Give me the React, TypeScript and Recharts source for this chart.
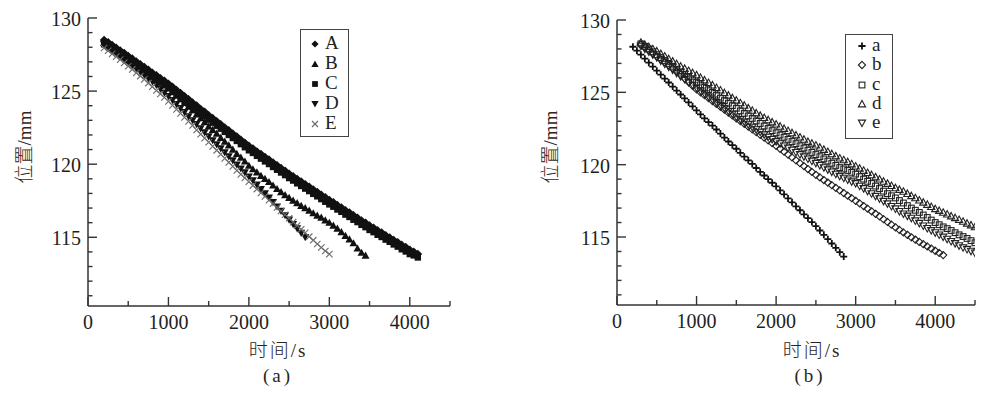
import React from 'react'
import { ScatterChart, Scatter, XAxis, YAxis } from 'recharts'

// sampling times (s)
const T = [
  200, 250, 300, 350, 400, 450, 500, 550, 600, 650, 700, 750, 800, 850, 900, 950, 1000, 1050, 1100,
  1150, 1200, 1250, 1300, 1350, 1400, 1450, 1500, 1550, 1600, 1650, 1700, 1750, 1800, 1850, 1900,
  1950, 2000, 2050, 2100, 2150, 2200, 2250, 2300, 2350, 2400, 2450, 2500, 2550, 2600, 2650, 2700,
  2750, 2800, 2850, 2900, 2950, 3000, 3050, 3100, 3150, 3200, 3250, 3300, 3350, 3400, 3450, 3500,
  3550, 3600, 3650, 3700, 3750, 3800, 3850, 3900, 3950, 4000, 4050, 4100, 4150, 4200, 4250, 4300,
  4350, 4400, 4450, 4500
]

const xTicks = [0, 500, 1000, 1500, 2000, 2500, 3000, 3500, 4000, 4500]
const yTicks = [111, 112, 113, 114, 115, 116, 117, 118, 119, 120, 121, 122, 123, 124, 125, 126, 127, 128, 129, 130]

// (a) 位置/mm, all start at 200 s
const posA = [
  128.5, 128.34, 128.15, 127.97, 127.78, 127.6, 127.4, 127.22, 127.02, 126.84, 126.64, 126.46, 126.26,
  126.08, 125.88, 125.7, 125.5, 125.3, 125.07, 124.87, 124.64, 124.44, 124.21, 124.01, 123.78, 123.58,
  123.35, 123.15, 122.93, 122.73, 122.51, 122.31, 122.09, 121.89, 121.67, 121.47, 121.25, 121.07,
  120.87, 120.69, 120.49, 120.31, 120.11, 119.93, 119.73, 119.55, 119.35, 119.18, 118.99, 118.82,
  118.63, 118.46, 118.27, 118.1, 117.91, 117.74, 117.55, 117.39, 117.2, 117.04, 116.85, 116.69, 116.5,
  116.34, 116.15, 115.99, 115.8, 115.65, 115.47, 115.32, 115.14, 114.99, 114.81, 114.66, 114.48,
  114.33, 114.15, 114.01, 113.85
]
const posB = [
  128.3, 128.16, 128.0, 127.81, 127.65, 127.47, 127.3, 127.09, 126.9, 126.71, 126.5, 126.29, 126.1,
  125.86, 125.65, 125.43, 125.2, 124.94, 124.7, 124.46, 124.2, 123.94, 123.7, 123.41, 123.15, 122.89,
  122.6, 122.36, 122.1, 121.81, 121.55, 121.29, 121.0, 120.71, 120.45, 120.19, 119.9, 119.66, 119.45,
  119.21, 119.0, 118.79, 118.55, 118.31, 118.1, 117.89, 117.7, 117.51, 117.35, 117.16, 117.0, 116.83,
  116.65, 116.49, 116.35, 116.16, 116.0, 115.81, 115.6, 115.36, 115.1, 114.86, 114.6, 114.24, 113.95, 113.75
]
const posC = [
  128.2, 128.05, 127.85, 127.66, 127.48, 127.3, 127.1, 126.91, 126.72, 126.54, 126.34, 126.15, 125.96,
  125.78, 125.58, 125.39, 125.2, 125.01, 124.77, 124.56, 124.34, 124.14, 123.91, 123.7, 123.48, 123.28,
  123.05, 122.84, 122.63, 122.43, 122.21, 122.0, 121.79, 121.59, 121.37, 121.16, 120.95, 120.77,
  120.57, 120.38, 120.19, 120.01, 119.81, 119.62, 119.43, 119.25, 119.05, 118.88, 118.69, 118.51,
  118.33, 118.16, 117.97, 117.8, 117.61, 117.43, 117.25, 117.09, 116.9, 116.74, 116.55, 116.39, 116.2,
  116.04, 115.85, 115.69, 115.5, 115.35, 115.17, 115.02, 114.84, 114.69, 114.51, 114.36, 114.18,
  114.03, 113.85, 113.76, 113.62
]
const posD = [
  128.2, 128.01, 127.8, 127.61, 127.4, 127.19, 127.0, 126.77, 126.55, 126.33, 126.1, 125.87, 125.65,
  125.41, 125.15, 124.89, 124.65, 124.37, 124.1, 123.83, 123.55, 123.27, 123.0, 122.73, 122.45, 122.17,
  121.9, 121.63, 121.35, 121.07, 120.8, 120.53, 120.25, 119.97, 119.7, 119.43, 119.15, 118.88, 118.6,
  118.29, 118.0, 117.71, 117.4, 117.1, 116.8, 116.5, 116.2, 115.89, 115.6, 115.3, 115.0
]
const posE = [
  127.95, 127.76, 127.55, 127.36, 127.15, 126.93, 126.7, 126.48, 126.25, 126.03, 125.8, 125.54, 125.3,
  125.04, 124.8, 124.56, 124.3, 124.02, 123.75, 123.48, 123.2, 122.93, 122.65, 122.34, 122.05, 121.78,
  121.5, 121.22, 120.95, 120.68, 120.4, 120.12, 119.85, 119.57, 119.3, 119.06, 118.8, 118.54, 118.3,
  118.04, 117.8, 117.54, 117.3, 117.04, 116.8, 116.54, 116.3, 116.04, 115.8, 115.54, 115.3, 115.04,
  114.8, 114.54, 114.3, 114.06, 113.85
]

// (b) a starts at 200 s, b-e at 300 s
const posa = [
  128.15, 127.88, 127.6, 127.33, 127.05, 126.78, 126.5, 126.22, 125.95, 125.68, 125.4, 125.12, 124.85,
  124.58, 124.3, 124.03, 123.75, 123.47, 123.2, 122.94, 122.7, 122.43, 122.15, 121.87, 121.6, 121.35,
  121.1, 120.82, 120.55, 120.3, 120.05, 119.77, 119.5, 119.25, 119.0, 118.75, 118.5, 118.22, 117.95,
  117.67, 117.4, 117.12, 116.85, 116.57, 116.3, 116.03, 115.75, 115.45, 115.15, 114.85, 114.55, 114.25,
  113.95, 113.65
]
const posb = [
  128.3, 128.12, 127.92, 127.71, 127.5, 127.29, 127.08, 126.87, 126.66, 126.45, 126.22, 125.96, 125.7,
  125.45, 125.2, 125.0, 124.8, 124.6, 124.4, 124.2, 124.0, 123.8, 123.6, 123.4, 123.2, 123.01, 122.82,
  122.63, 122.44, 122.25, 122.06, 121.87, 121.68, 121.49, 121.3, 121.1, 120.9, 120.7, 120.5, 120.3,
  120.1, 119.9, 119.7, 119.5, 119.3, 119.12, 118.94, 118.76, 118.58, 118.4, 118.22, 118.04, 117.86,
  117.68, 117.5, 117.32, 117.14, 116.96, 116.78, 116.6, 116.42, 116.23, 116.04, 115.85, 115.67, 115.49,
  115.32, 115.15, 114.98, 114.82, 114.66, 114.5, 114.35, 114.2, 114.05, 113.9, 113.75
]
const posc = [
  128.35, 128.18, 128.0, 127.8, 127.6, 127.4, 127.2, 127.0, 126.8, 126.6, 126.4, 126.22, 126.05, 125.87,
  125.7, 125.52, 125.35, 125.18, 125.0, 124.8, 124.6, 124.43, 124.25, 124.08, 123.9, 123.72, 123.55,
  123.37, 123.2, 123.02, 122.85, 122.67, 122.5, 122.35, 122.2, 122.05, 121.9, 121.75, 121.6, 121.45,
  121.3, 121.15, 121.0, 120.85, 120.7, 120.55, 120.4, 120.25, 120.1, 119.95, 119.8, 119.7, 119.6,
  119.47, 119.35, 119.17, 119.0, 118.85, 118.7, 118.52, 118.35, 118.17, 118.0, 117.85, 117.7, 117.52,
  117.35, 117.17, 117.0, 116.85, 116.7, 116.52, 116.35, 116.17, 116.0, 115.85, 115.7, 115.58, 115.45,
  115.3, 115.15, 115.03, 114.9, 114.75, 114.6
]
const posd = [
  128.45, 128.3, 128.15, 128.0, 127.85, 127.67, 127.5, 127.32, 127.15, 126.97, 126.8, 126.65, 126.5,
  126.35, 126.2, 126.02, 125.85, 125.67, 125.5, 125.32, 125.15, 124.97, 124.8, 124.62, 124.45, 124.27,
  124.1, 123.92, 123.75, 123.57, 123.4, 123.25, 123.1, 122.95, 122.8, 122.65, 122.5, 122.35, 122.2,
  122.05, 121.9, 121.75, 121.6, 121.48, 121.35, 121.2, 121.05, 120.9, 120.75, 120.6, 120.45, 120.33,
  120.2, 120.05, 119.9, 119.75, 119.6, 119.45, 119.3, 119.15, 119.0, 118.85, 118.7, 118.55, 118.4,
  118.28, 118.15, 118.0, 117.85, 117.7, 117.55, 117.4, 117.25, 117.1, 116.95, 116.83, 116.7, 116.58,
  116.45, 116.33, 116.2, 116.08, 115.95, 115.83, 115.7
]
const pose = [
  128.2, 128.0, 127.8, 127.6, 127.4, 127.17, 126.95, 126.75, 126.55, 126.32, 126.1, 125.9, 125.7, 125.5,
  125.3, 125.1, 124.9, 124.7, 124.5, 124.3, 124.1, 123.9, 123.7, 123.5, 123.3, 123.12, 122.95, 122.77,
  122.6, 122.42, 122.25, 122.07, 121.9, 121.75, 121.6, 121.45, 121.3, 121.15, 121.0, 120.85, 120.7,
  120.55, 120.4, 120.25, 120.1, 119.95, 119.8, 119.65, 119.5, 119.35, 119.2, 119.07, 118.95, 118.82,
  118.7, 118.52, 118.35, 118.17, 118.0, 117.82, 117.65, 117.47, 117.3, 117.12, 116.95, 116.77, 116.6,
  116.45, 116.3, 116.12, 115.95, 115.77, 115.6, 115.45, 115.3, 115.15, 115.0, 114.85, 114.7, 114.55,
  114.4, 114.27, 114.15, 114.02, 113.9
]

const toPts = (vals: number[], start = 200) => {
  const i0 = T.indexOf(start)
  return vals.map((y, i) => ({ t: T[i0 + i], y })).filter(p => p.t !== undefined)
}

const SERIF = '"Liberation Serif", "Noto Sans CJK SC", serif'
const INK = '#1e1e22'

type Kind = 'diamond' | 'triUp' | 'square' | 'triDown' | 'x' | 'plus'

function Mark({ cx, cy, kind, s, color, open }: any) {
  const fill = open ? 'none' : color
  const stroke = open ? color : 'none'
  const common = { fill, stroke, strokeWidth: open ? 1.1 : 0 }
  if (kind === 'diamond')
    return <path d={`M${cx},${cy - s}L${cx + s},${cy}L${cx},${cy + s}L${cx - s},${cy}Z`} {...common} />
  if (kind === 'square')
    return <rect x={cx - s * 0.8} y={cy - s * 0.8} width={s * 1.6} height={s * 1.6} {...common} />
  if (kind === 'triUp')
    return <path d={`M${cx},${cy - s}L${cx + s},${cy + s * 0.8}L${cx - s},${cy + s * 0.8}Z`} {...common} />
  if (kind === 'triDown')
    return <path d={`M${cx},${cy + s}L${cx + s},${cy - s * 0.8}L${cx - s},${cy - s * 0.8}Z`} {...common} />
  if (kind === 'x')
    return (
      <path d={`M${cx - s},${cy - s}L${cx + s},${cy + s}M${cx - s},${cy + s}L${cx + s},${cy - s}`}
        stroke={color} strokeWidth={1.1} fill="none" />
    )
  return (
    <path d={`M${cx - s},${cy}L${cx + s},${cy}M${cx},${cy - s}L${cx},${cy + s}`}
      stroke={color} strokeWidth={1.8} fill="none" />
  )
}

const YTick = ({ x, y, payload }: any) => {
  const major = payload.value % 5 === 0
  return (
    <g>
      <line x1={x} x2={x + (major ? 9 : 4.5)} y1={y} y2={y} stroke="#333" strokeWidth={1.4} />
      {major && (
        <text x={x - 7} y={y} dy={8} textAnchor="end" fontFamily={SERIF} fontSize={20} fill={INK}>
          {payload.value}
        </text>
      )}
    </g>
  )
}

const XTick = ({ x, y, payload }: any) => {
  const major = payload.value % 1000 === 0
  return (
    <g>
      <line x1={x} x2={x} y1={y} y2={y - (major ? 9 : 5)} stroke="#333" strokeWidth={1.4} />
      {major && payload.value < 4500 && (
        <text x={x} y={y} dy={23} textAnchor="middle" fontFamily={SERIF} fontSize={20} fill={INK}>
          {payload.value}
        </text>
      )}
    </g>
  )
}

interface SeriesDef {
  name: string
  data: { t: number; y: number }[]
  kind: Kind
  color: string
  open?: boolean
  s: number
}

const leftSeries: SeriesDef[] = [
  { name: 'A', data: toPts(posA), kind: 'diamond', color: '#111', s: 4.3 },
  { name: 'B', data: toPts(posB), kind: 'triUp', color: '#111', s: 4 },
  { name: 'C', data: toPts(posC), kind: 'square', color: '#111', s: 4 },
  { name: 'D', data: toPts(posD), kind: 'triDown', color: '#111', s: 4 },
  { name: 'E', data: toPts(posE), kind: 'x', color: '#6a6a6a', s: 3.2 }
]

const rightSeries: SeriesDef[] = [
  { name: 'a', data: toPts(posa), kind: 'plus', color: '#111', s: 3.5 },
  { name: 'b', data: toPts(posb, 300), kind: 'diamond', color: '#222', open: true, s: 3.6 },
  { name: 'c', data: toPts(posc, 300), kind: 'square', color: '#222', open: true, s: 3.6 },
  { name: 'd', data: toPts(posd, 300), kind: 'triUp', color: '#222', open: true, s: 3.6 },
  { name: 'e', data: toPts(pose, 300), kind: 'triDown', color: '#222', open: true, s: 3.6 }
]

function Panel({ series, margin, width, yWidth }: any) {
  return (
    <ScatterChart width={width} height={393} margin={margin}>
      <XAxis
        type="number"
        dataKey="t"
        domain={[0, 4500]}
        ticks={xTicks}
        interval={0}
        height={30}
        tickSize={0}
        tickMargin={0}
        tickLine={false}
        tick={<XTick />}
        axisLine={{ stroke: '#333', strokeWidth: 1.5 }}
        allowDataOverflow
      />
      <YAxis
        type="number"
        dataKey="y"
        domain={[110.3, 130]}
        ticks={yTicks}
        interval={0}
        width={yWidth}
        tickSize={0}
        tickMargin={0}
        tickLine={false}
        tick={<YTick />}
        axisLine={{ stroke: '#333', strokeWidth: 1.5 }}
        allowDataOverflow
      />
      {series.map((sr: SeriesDef) => (
        <Scatter
          key={sr.name}
          name={sr.name}
          data={sr.data}
          isAnimationActive={false}
          shape={(p: any) => <Mark cx={p.cx} cy={p.cy} kind={sr.kind} s={sr.s} color={sr.color} open={sr.open} />}
        />
      ))}
    </ScatterChart>
  )
}

function LegendBox({ series, left, top, width, height, rowTop, rowGap, markX }: any) {
  return (
    <div style={{
      position: 'absolute', left, top, width, height, border: '1.3px solid #444',
      boxSizing: 'border-box', background: '#fff'
    }}>
      {series.map((sr: SeriesDef, i: number) => (
        <div key={sr.name} style={{ position: 'absolute', left: 0, top: rowTop + i * rowGap - 10, height: 20, width: '100%' }}>
          <svg width={14} height={14} style={{ position: 'absolute', left: markX - 7, top: 3 }}>
            <Mark cx={7} cy={7} kind={sr.kind} s={sr.kind === 'x' ? 3 : 3.6} color={sr.color} open={sr.open} />
          </svg>
          <span style={{
            position: 'absolute', left: markX + 10, top: -1, fontFamily: SERIF, fontSize: 19,
            color: INK, lineHeight: '20px'
          }}>{sr.name}</span>
        </div>
      ))}
    </div>
  )
}

const titleStyle: React.CSSProperties = {
  position: 'absolute', fontFamily: SERIF, fontSize: 19, fontWeight: 300, color: '#2b2620', whiteSpace: 'nowrap'
}

export default function App() {
  return (
    <div style={{ position: 'absolute', left: 0, top: 0, width: 984, height: 393, background: '#fff', overflow: 'hidden' }}>
      <div style={{ position: 'absolute', left: 0, top: 0 }}>
        <Panel series={leftSeries} width={460} yWidth={88} margin={{ top: 18, right: 10, bottom: 57, left: 0 }} />
      </div>
      <div style={{ position: 'absolute', left: 530, top: 0 }}>
        <Panel series={rightSeries} width={454} yWidth={87} margin={{ top: 20, right: 9, bottom: 58, left: 0 }} />
      </div>

      <LegendBox series={leftSeries} left={300} top={29} width={49} height={108} rowTop={14} rowGap={20} markX={14} />
      <LegendBox series={rightSeries} left={845} top={34} width={48} height={105} rowTop={11} rowGap={19.3} markX={16} />

      <div style={{ ...titleStyle, left: 22, top: 147, transform: 'translate(-50%, -50%) rotate(-90deg)' }}>位置/mm</div>
      <div style={{ ...titleStyle, left: 548, top: 147, transform: 'translate(-50%, -50%) rotate(-90deg)' }}>位置/mm</div>
      <div style={{ ...titleStyle, left: 278, top: 348, transform: 'translate(-50%, -50%)', letterSpacing: 2 }}>时间/s</div>
      <div style={{ ...titleStyle, left: 812, top: 348, transform: 'translate(-50%, -50%)', letterSpacing: 2 }}>时间/s</div>
      <div style={{ ...titleStyle, left: 278, top: 376, transform: 'translate(-50%, -50%)', letterSpacing: 3 }}>(a)</div>
      <div style={{ ...titleStyle, left: 810, top: 376, transform: 'translate(-50%, -50%)', letterSpacing: 3 }}>(b)</div>
    </div>
  )
}
